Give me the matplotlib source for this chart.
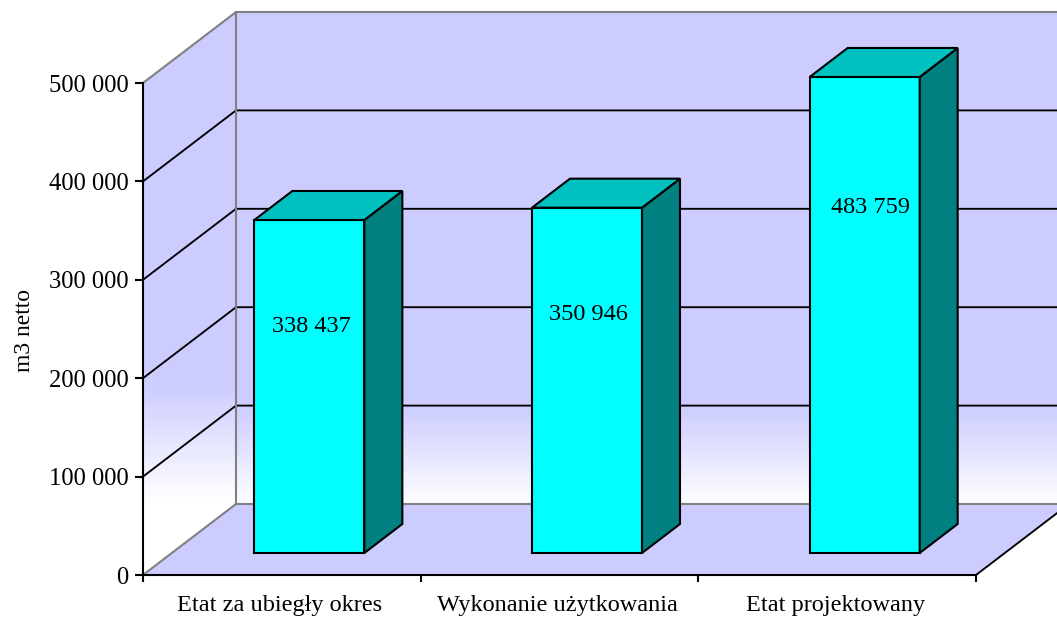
import numpy as np
import matplotlib
matplotlib.use("Agg")
import matplotlib.pyplot as plt
from matplotlib.colors import LinearSegmentedColormap
from matplotlib.patches import Polygon

categories = ["Etat za ubiegły okres", "Wykonanie użytkowania", "Etat projektowany"]
values = [338437, 350946, 483759]
value_labels = ["338 437", "350 946", "483 759"]
y_ticks = [0, 100000, 200000, 300000, 400000, 500000]
y_tick_labels = ["0", "100 000", "200 000", "300 000", "400 000", "500 000"]

W, H = 1057, 618
plt.rcParams["font.family"] = ["Liberation Serif", "DejaVu Serif"]
fig = plt.figure(figsize=(W / 100, H / 100), dpi=100, facecolor="white")
L, R, T, B = 143, 976, 83, 575
ax = fig.add_axes([L / W, 1 - B / H, (R - L) / W, (B - T) / H])
ax.patch.set_visible(False)

PX_X = 3 / (R - L)
PX_Y = 500000 / (B - T)
DX, DY = 93 * PX_X, 71 * PX_Y          # full floor depth in data units


def P(x, v, d=0.0):
    return (x + d * DX, v + d * DY)


WALL = "#CCCCFF"
GREY = "#808080"
cmap = LinearSegmentedColormap.from_list("wall", ["#FFFFFF", WALL])
TOP = max(y_ticks)
grad = np.linspace(0, 1, 256).reshape(-1, 1)

# back wall
ax.add_patch(Polygon([P(0, 0, 1), P(3, 0, 1), P(3, TOP, 1), P(0, TOP, 1)], closed=True,
                     facecolor=WALL, edgecolor="none", zorder=1, clip_on=False))
im = ax.imshow(grad, origin="lower", cmap=cmap, aspect="auto", interpolation="bilinear", zorder=1.1,
               extent=[DX, 3 + DX, DY - 2000, DY + 100000])
im.set_clip_on(False)

# left wall
ax.add_patch(Polygon([P(0, 0, 0), P(0, 0, 1), P(0, TOP, 1), P(0, TOP, 0)], closed=True,
                     facecolor=WALL, edgecolor="none", zorder=1, clip_on=False))
GRAD_TOP = 195000
GRAD_LOW = 75000
t_left = np.clip((np.linspace(0, GRAD_TOP, 256) - GRAD_LOW) / (GRAD_TOP - GRAD_LOW), 0, 1).reshape(-1, 1)
im2 = ax.imshow(t_left, origin="lower", cmap=cmap, vmin=0, vmax=1, aspect="auto", interpolation="bilinear",
                zorder=1.1, extent=[0, DX, 0, GRAD_TOP])
clip2 = Polygon([P(0, 0, 0), P(0, 0, 1), (DX, GRAD_TOP), (0, GRAD_TOP)], closed=True,
                transform=ax.transData, facecolor="none", edgecolor="none")
im2.set_clip_path(clip2)

# floor
ax.add_patch(Polygon([P(0, 0, 0), P(3, 0, 0), P(3, 0, 1), P(0, 0, 1)], closed=True,
                     facecolor=WALL, edgecolor="none", zorder=1.2, clip_on=False))
ax.set_xlim(0, 3)
ax.set_ylim(0, 500000)

# gridlines
for t in y_ticks[1:-1]:
    xs, ys = zip(P(0, t, 0), P(0, t, 1), P(3, t, 1))
    ax.plot(xs, ys, color="black", lw=1.35, zorder=2, clip_on=False, solid_joinstyle="miter")

# grey frame
for seq in ([P(0, 0, 0), P(0, 0, 1), P(3, 0, 1)],
            [P(0, TOP, 0), P(0, TOP, 1), P(3, TOP, 1)],
            [P(0, 0, 1), P(0, TOP, 1)]):
    xs, ys = zip(*seq)
    ax.plot(xs, ys, color=GREY, lw=1.5, zorder=2.1, clip_on=False)
xs, ys = zip(P(3, 0, 0), P(3, 0, 1))
ax.plot(xs, ys, color="black", lw=1.35, zorder=2.1, clip_on=False)

# bars
BAR_W = 110 * PX_X
SHIFT = -1.3 * PX_X
D0, D1 = 22 / 71, 51 / 71
label_drop_px = [107, 107, 131]
label_shift_px = [2, 1, 6]
for i, (v, lab) in enumerate(zip(values, value_labels)):
    c = i + 0.5 + SHIFT
    x0, x1 = c - BAR_W / 2, c + BAR_W / 2
    kw = dict(closed=True, edgecolor="black", lw=1.5, zorder=3, clip_on=False, joinstyle="miter")
    ax.add_patch(Polygon([P(x0, 0, D0), P(x1, 0, D0), P(x1, v, D0), P(x0, v, D0)], facecolor="#00FFFF", **kw))
    ax.add_patch(Polygon([P(x1, 0, D0), P(x1, 0, D1), P(x1, v, D1), P(x1, v, D0)], facecolor="#008080", **kw))
    ax.add_patch(Polygon([P(x0, v, D0), P(x1, v, D0), P(x1, v, D1), P(x0, v, D1)], facecolor="#00C0C0", **kw))
    ax.annotate(lab, xy=P(c, v, D0), xytext=(label_shift_px[i] * 0.72, -label_drop_px[i] * 0.72),
                textcoords="offset points", ha="center", va="center", fontsize=17.5, color="black",
                zorder=4, annotation_clip=False)

# axes
for s in ("top", "right"):
    ax.spines[s].set_visible(False)
for s in ("left", "bottom"):
    ax.spines[s].set_linewidth(1.5)
    ax.spines[s].set_zorder(5)
ax.set_xticks([0, 1, 2, 3])
ax.set_xticklabels([])
ax.set_xticks([0.5 - 2 * PX_X, 1.5 - 2 * PX_X, 2.5 - 2 * PX_X], minor=True)
ax.set_xticklabels(categories, minor=True)
ax.tick_params(axis="x", which="major", length=5, width=1.5, direction="out")
ax.tick_params(axis="x", which="minor", length=0, pad=14.5, labelsize=17.5)
ax.set_yticks(y_ticks)
ax.set_yticklabels(y_tick_labels)
ax.tick_params(axis="y", length=6, width=1.5, pad=4.3, labelsize=17.7)
ax.set_ylabel("m3 netto", fontsize=17)
ax.yaxis.set_label_coords((35 - L) / (R - L), 1 - (331 - T) / (B - T))

fig.savefig("out.png", dpi=100, facecolor="white")
